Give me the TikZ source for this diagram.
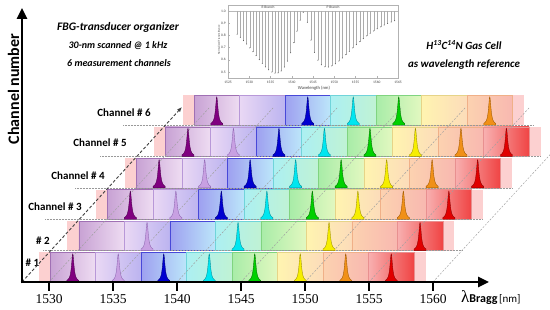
\documentclass[tikz,border=0pt]{standalone}
\usepackage{fontspec}
\setmainfont{Carlito}
\newfontfamily\serifnum{Liberation Serif}
\usetikzlibrary{arrows.meta}
% box colours (left, right, border) for the 8 wavelength slots
\definecolor{bl1}{HTML}{C8A2D4}\definecolor{br1}{HTML}{EEDCF2}\definecolor{bd1}{HTML}{A070B4}
\definecolor{bl2}{HTML}{EAD8F4}\definecolor{br2}{HTML}{BCB4F0}\definecolor{bd2}{HTML}{B898D8}
\definecolor{bl3}{HTML}{9EA0F0}\definecolor{br3}{HTML}{BCE6FA}\definecolor{bd3}{HTML}{4848D8}
\definecolor{bl4}{HTML}{ACF0F2}\definecolor{br4}{HTML}{C0F2D4}\definecolor{bd4}{HTML}{70D4DA}
\definecolor{bl5}{HTML}{A8ECA8}\definecolor{br5}{HTML}{E2F8C0}\definecolor{bd5}{HTML}{80D480}
\definecolor{bl6}{HTML}{FFF4B0}\definecolor{br6}{HTML}{FCDCBA}\definecolor{bd6}{HTML}{E6D488}
\definecolor{bl7}{HTML}{FCD2B0}\definecolor{br7}{HTML}{F8B8B0}\definecolor{bd7}{HTML}{F0B088}
\definecolor{bl8}{HTML}{F8B0B0}\definecolor{br8}{HTML}{F04444}\definecolor{bd8}{HTML}{E89090}
\definecolor{pinkstripc}{HTML}{FCD0D0}
% peak colours (fill, outline)
\definecolor{pf1}{HTML}{800080}\definecolor{pd1}{HTML}{4C004C}
\definecolor{pf2}{HTML}{C8A0E2}\definecolor{pd2}{HTML}{8C64B0}
\definecolor{pf3}{HTML}{0000D0}\definecolor{pd3}{HTML}{000078}
\definecolor{pf4}{HTML}{00E6F0}\definecolor{pd4}{HTML}{008C96}
\definecolor{pf5}{HTML}{00D000}\definecolor{pd5}{HTML}{006C00}
\definecolor{pf6}{HTML}{F6EE00}\definecolor{pd6}{HTML}{9C8E00}
\definecolor{pf7}{HTML}{F09018}\definecolor{pd7}{HTML}{9C5600}
\definecolor{pf8}{HTML}{E00000}\definecolor{pd8}{HTML}{8C0000}
\newcommand{\fbgpeak}[3]{%
  \filldraw[fill=pf#3, draw=pd#3, line width=0.35pt]
    (#1-6,#2) -- plot[domain=-6:6, samples=49, smooth] ({#1+\x},{#2-28/(1+(\x/1.5)^2)}) -- (#1+6,#2) -- cycle;
}
\begin{document}
\begin{tikzpicture}[x=1pt,y=-1pt,
  pinkstrip/.style={fill=pinkstripc},
  hdots/.style={densely dotted, gray!80, line width=0.5pt},
  diagline/.style={dashed, dash pattern=on 2pt off 1.5pt, gray!75, line width=0.45pt},
  scanarrow/.style={dashed, dash pattern=on 3pt off 2pt, black!75, line width=0.9pt, -{Latex[length=5pt,width=4pt]}},
  axisline/.style={line width=2.6pt, -{Triangle[length=11pt,width=10pt]}},
  chlabel/.style={font=\fontsize{11}{13}\selectfont\bfseries, inner sep=0pt},
  toptext/.style={font=\bfseries\itshape, inner sep=0pt},
  ticklab/.style={font=\serifnum\fontsize{13.5}{15}\selectfont, inner sep=0pt},
  insettxt/.style={font=\fontsize{3.6}{4}\selectfont, inner sep=0pt, text=black!75},
  specline/.style={gray!65, line width=0.3pt}]
\useasboundingbox (0,0) rectangle (550,310);
\begin{scope}
\clip (0,0) rectangle (550,310);
% ---------- rows of boxes ----------
\foreach \k/\nb in {1/8,2/8,3/8,4/8,5/8,6/7}{
  \pgfmathsetmacro\xo{50+28.8*(\k-1)}
  \pgfmathsetmacro\yb{282-31.4*(\k-1)}
  \pgfmathsetmacro\yt{\yb-29.5}
  \pgfmathsetmacro\xr{\xo+45.5*\nb}
  \fill[pinkstrip] (\xo-11.5,\yt) rectangle (\xo,\yb);
  \fill[pinkstrip] (\xr,\yt) rectangle (\xr+11.5,\yb);
  \foreach \i in {1,...,\nb}{
    \pgfmathsetmacro\xa{\xo+45.5*(\i-1)}
    \draw[draw=bd\i, line width=0.5pt, left color=bl\i, right color=br\i] (\xa,\yt) rectangle ++(45.5,29.5);
  }
}
% ---------- dotted row separators ----------
\foreach \k/\xs/\xf in {2/43/463,3/45/483,4/75/513,5/100/540,6/123/533}{
  \pgfmathsetmacro\yb{282-31.4*(\k-1)}
  \draw[hdots] (\xs,\yb) -- (\xf,\yb);
}
% ---------- diagonal scan lines ----------
\foreach \t in {49,113,177,241,305,369,433}{
  \draw[diagline] (\t,282) -- ++(160,-174);
}
% ---------- peaks ----------
\foreach \k/\nb in {1/8,2/8,3/8,4/8,5/8,6/7}{
  \pgfmathsetmacro\xo{50+28.8*(\k-1)}
  \pgfmathsetmacro\yb{282-31.4*(\k-1)}
  \foreach \i in {1,...,\nb}{
    \pgfmathtruncatemacro\haspk{((\k==2 && isodd(\i)) || (\k==6 && (\i==2 || \i==6))) ? 0 : 1}
    \ifnum\haspk=1
      \pgfmathsetmacro\pc{\xo+45.5*(\i-1)+22.75}
      \fbgpeak{\pc}{\yb}{\i}
    \fi
  }
}
\end{scope}
% ---------- channel labels ----------
\node[chlabel] (c6) at (124,113) {Channel \# 6};
\node[chlabel] (c5) at (100,143) {Channel \# 5};
\node[chlabel] (c4) at (78,176) {Channel \# 4};
\node[chlabel] (c3) at (55,207) {Channel \# 3};
\node[chlabel] (c2) at (43,241) {\# 2};
\node[chlabel] (c1) at (32.5,263) {\# 1};
% ---------- scan arrow ----------
\coordinate (orig) at (22,282);
\coordinate (scanend) at (182,107);
\draw[scanarrow] (orig) -- (scanend);
% ---------- axes ----------
\coordinate (ytop) at (22,8);
\coordinate (xend) at (489,282);
\coordinate (ybase) at (22,283.3);
\coordinate (xbase) at (20.7,282);
\draw[axisline] (ybase) -- (ytop);
\draw[axisline] (xbase) -- (xend);
\foreach \t/\lab in {49/1530,113/1535,177/1540,241/1545,305/1550,369/1555,433/1560}{
  \draw[line width=1.5pt] (\t,282) -- (\t,291);
  \node[ticklab] (t\lab) at (\t,299) {\lab};
}
\node[font=\fontsize{16}{18}\selectfont\bfseries, rotate=90, inner sep=0pt] (ylab) at (13.5,89) {Channel number};
\node[anchor=base west, inner sep=0pt] (xlab) at (461,303) {{\serifnum\fontsize{17}{18}\selectfont λ}{\fontsize{12}{13}\selectfont\bfseries Bragg}\,{\fontsize{11}{12}\selectfont [nm]}};
% ---------- top texts ----------
\node[toptext, font=\fontsize{11.5}{13}\selectfont\bfseries\itshape] (tt1) at (118,27) {FBG-transducer organizer};
\node[toptext, font=\fontsize{10}{12}\selectfont\bfseries\itshape] (tt2) at (118,46) {30-nm scanned @ 1 kHz};
\node[toptext, font=\fontsize{10}{12}\selectfont\bfseries\itshape] (tt3) at (119,63) {6 measurement channels};
\node[toptext, font=\fontsize{11}{13}\selectfont\bfseries\itshape] (rt1) at (464,45) {H\textsuperscript{13}C\textsuperscript{14}N Gas Cell};
\node[toptext, font=\fontsize{11}{13}\selectfont\bfseries\itshape] (rt2) at (464,65) {as wavelength reference};
% ---------- inset spectrum ----------
\begin{scope}
\draw[gray!60, line width=0.4pt] (228,5) rectangle (398,78);
\draw[gray!55, line width=0.3pt] (228,11) -- (398,11);
\foreach \J in {0,...,21}{
  \pgfmathsetmacro\lam{1542.7-0.74*\J}
  \pgfmathsetmacro\xx{(1543.1-\lam)/6.8}
  \pgfmathsetmacro\dp{0.51*\xx*\xx*exp(2*(1-\xx))}
  \pgfmathsetmacro\lx{228+(\lam-1525)*4.25}
  \pgfmathsetmacro\ly{11+\dp*122}
  \draw[specline] (\lx,11) -- (\lx,\ly);
  \fill[gray!60!black] (\lx,\ly) circle (0.5);
}
\foreach \J in {0,...,25}{
  \pgfmathsetmacro\lam{1543.7+0.82*\J}
  \pgfmathsetmacro\xx{(\lam-1543.3)/5}
  \pgfmathsetmacro\dp{0.46*\xx*exp(1-\xx)}
  \pgfmathsetmacro\lx{228+(\lam-1525)*4.25}
  \pgfmathsetmacro\ly{11+\dp*122}
  \draw[specline] (\lx,11) -- (\lx,\ly);
  \fill[gray!60!black] (\lx,\ly) circle (0.5);
}
\foreach \w in {1525,1530,...,1565}{
  \pgfmathsetmacro\lx{228+(\w-1525)*4.25}
  \draw[gray!60, line width=0.3pt] (\lx,78) -- (\lx,76.5);
  \node[insettxt] at (\lx,82) {\w};
}
\foreach \v/\yy in {1.0/11,0.9/23.2,0.8/35.4,0.7/47.6,0.6/59.8,0.5/72}{
  \draw[gray!60, line width=0.3pt] (228,\yy) -- (229.5,\yy);
  \node[insettxt, anchor=east] at (226,\yy) {\v};
}
\node[insettxt, font=\fontsize{4.6}{5}\selectfont] (wl) at (314,88) {Wavelength (nm)};
\node[insettxt, rotate=90, font=\fontsize{2.8}{3}\selectfont] (nt) at (219,40) {Normalized Transmittance};
\node[insettxt] (rb) at (268,7.5) {R Branch};
\node[insettxt] (pb) at (333,7.5) {P Branch};
\end{scope}
\end{tikzpicture}
\end{document}
